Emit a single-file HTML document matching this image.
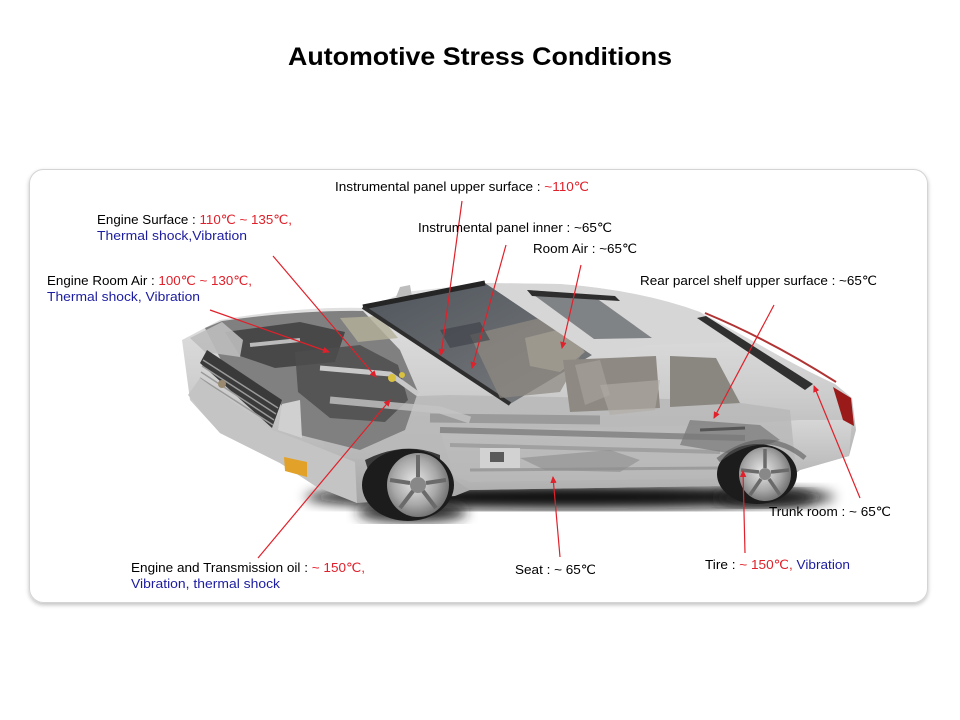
<!DOCTYPE html>
<html><head><meta charset="utf-8"><style>
html,body{margin:0;padding:0;background:#fff;}
svg{display:block;}
text{font-family:"Liberation Sans",Arial,sans-serif;}
</style></head><body>
<svg width="960" height="720" viewBox="0 0 960 720" xmlns="http://www.w3.org/2000/svg">
<defs>
<filter id="sh" x="-5%" y="-5%" width="110%" height="115%"><feGaussianBlur in="SourceAlpha" stdDeviation="2"/><feOffset dx="0" dy="2"/><feComponentTransfer><feFuncA type="linear" slope="0.25"/></feComponentTransfer><feMerge><feMergeNode/><feMergeNode in="SourceGraphic"/></feMerge></filter>
<filter id="blur6"><feGaussianBlur stdDeviation="6"/></filter>
<linearGradient id="body" x1="0" y1="0" x2="0" y2="1"><stop offset="0" stop-color="#e6e6e6"/><stop offset="0.5" stop-color="#cdcdcd"/><stop offset="1" stop-color="#a6a6a6"/></linearGradient>
<linearGradient id="side" x1="0" y1="0" x2="0" y2="1"><stop offset="0" stop-color="#d8d8d8"/><stop offset="1" stop-color="#b0b0b0"/></linearGradient>
<linearGradient id="glass" x1="0" y1="0" x2="1" y2="1"><stop offset="0" stop-color="#4f555c"/><stop offset="1" stop-color="#7a7c7e"/></linearGradient>
<radialGradient id="rim" cx="0.45" cy="0.45" r="0.6"><stop offset="0" stop-color="#e8e8e8"/><stop offset="0.6" stop-color="#a8a8a8"/><stop offset="1" stop-color="#6a6a6a"/></radialGradient>
<marker id="ar" markerWidth="8" markerHeight="8" refX="6" refY="4" orient="auto" markerUnits="userSpaceOnUse"><path d="M0,0.8 L7,4 L0,7.2 Z" fill="#e0202a"/></marker>
</defs>

<!-- title -->
<text x="480" y="65" text-anchor="middle" font-size="25" font-weight="bold" fill="#000" textLength="384" lengthAdjust="spacingAndGlyphs">Automotive Stress Conditions</text>

<!-- card -->
<rect x="29.5" y="169.5" width="898" height="433" rx="14" ry="14" fill="#fff" stroke="#d4d4d4" stroke-width="1" filter="url(#sh)"/>

<!-- CAR -->
<g>
  <ellipse cx="570" cy="497" rx="265" ry="12" fill="#111" filter="url(#blur6)"/>
  <ellipse cx="412" cy="512" rx="55" ry="10" fill="#222" filter="url(#blur6)"/>
  <ellipse cx="765" cy="498" rx="50" ry="9" fill="#222" filter="url(#blur6)"/>

  <path d="M182,340 L220,320 Q300,306 367,308 L405,292 L485,283 L560,284 Q640,290 700,312 L760,345 Q800,368 835,384 L852,398 L856,430 L849,456 L800,470 L790,478 L722,486 L470,490 L455,496 L357,503 L317,487 L280,463 L220,433 L190,400 Z" fill="url(#body)"/>

  <path d="M440,430 L720,425 L800,420 L852,420 L849,456 L800,470 L722,486 L470,490 L455,480 Z" fill="url(#side)" opacity="0.9"/>

  <path d="M300,400 L450,395 L720,400 L790,410 L795,460 L730,478 L470,482 L440,470 L330,455 Z" fill="#b8b8b8" opacity="0.85"/>
  <path d="M440,430 L745,438" stroke="#8a8a8a" stroke-width="6"/>
  <path d="M430,418 L600,420" stroke="#9a9a9a" stroke-width="9"/>
  <path d="M450,445 L720,452" stroke="#a0a0a0" stroke-width="4"/>
  <path d="M470,470 L720,468" stroke="#9c9c9c" stroke-width="3"/>
  <rect x="480" y="448" width="40" height="20" fill="#d8d8d8" opacity="0.8"/>
  <rect x="490" y="452" width="14" height="10" fill="#5a5a5a"/>
  <path d="M520,458 L545,470 L620,472 L640,460 L610,450 Z" fill="#8d8d8d" opacity="0.6"/>
  <path d="M690,420 L760,425 L780,440 L740,455 L680,445 Z" fill="#777" opacity="0.7"/>
  <path d="M700,430 L745,428" stroke="#555" stroke-width="3"/>

  <path d="M205,328 L222,321 Q300,310 363,311 L400,350 L418,392 L405,430 L360,450 L300,435 L280,403 L222,362 Z" fill="#808080"/>
  <path d="M225,332 L300,322 L345,332 L335,362 L275,368 L240,356 Z" fill="#3e3e3e" opacity="0.85"/>
  <path d="M295,352 L360,345 L398,365 L408,400 L385,422 L330,418 L298,392 Z" fill="#4e4e4e" opacity="0.85"/>
  <path d="M340,318 L380,316 L398,338 L358,342 Z" fill="#b5b09a" opacity="0.8"/>
  <path d="M320,368 L390,374 L418,394" stroke="#c8c8c8" stroke-width="5" fill="none"/>
  <path d="M250,345 L300,340" stroke="#bbbbbb" stroke-width="4"/>
  <circle cx="392" cy="378" r="4" fill="#d8c040"/>
  <circle cx="402" cy="375" r="3" fill="#d8c040"/>
  <path d="M330,400 L440,410 L470,420" stroke="#c4c4c4" stroke-width="7" fill="none" opacity="0.8"/>
  <path d="M190,338 L222,322 L243,340 L240,357 L205,352 Z" fill="#bcbcbc" opacity="0.9"/>

  <path d="M200,363 L207,350 L282,400 L272,428 Z" fill="#3a3a3a"/>
  <path d="M203,360 L278,408 M202,366 L276,414 M201,372 L274,420 M200,378 L273,425" stroke="#9a9a9a" stroke-width="1.5"/>
  <circle cx="222" cy="384" r="4" fill="#9a8a70"/>
  <path d="M188,395 L200,378 L272,430 L300,440 L355,462 L357,503 L317,487 L280,463 L220,433 Z" fill="#c4c4c4"/>
  <path d="M284,457 L307,462 L307,477 L285,471 Z" fill="#e2a22a"/>
  <path d="M282,404 L300,400 L302,438 L278,430 Z" fill="#d0d0d0"/>
  <path d="M365,460 Q405,440 440,455 L440,466 Q405,452 368,470 Z" fill="#3a3a3a"/>

  <path d="M396,297 L400,287 L410,285 L412,297 Z" fill="#bdbdbd"/>

  <path d="M363,307 L485,283 L592,355 L510,404 Z" fill="url(#glass)"/>
  <path d="M363,307 L485,283" stroke="#252525" stroke-width="5"/>
  <path d="M363,307 L510,404" stroke="#2e2e2e" stroke-width="4"/>
  <path d="M470,335 L540,318 L585,348 L560,392 L500,398 Z" fill="#8f8a83" opacity="0.75"/>
  <path d="M525,338 L565,328 L585,352 L560,372 L530,366 Z" fill="#a39d92" opacity="0.8"/>
  <path d="M440,330 L480,322 L490,340 L450,348 Z" fill="#3c4046" opacity="0.6"/>

  <path d="M485,283 L560,284 Q640,290 700,312 L735,342 L650,345 L592,355 Z" fill="#d6d6d6"/>
  <path d="M527,290 L592,295 L652,338 L594,339 Z" fill="#808386"/>
  <path d="M527,290 L615,296 L620,301 L532,296 Z" fill="#2e2e2e"/>

  <path d="M563,360 L656,356 L660,408 L570,412 Z" fill="#8e8a83"/>
  <path d="M670,356 L716,358 L740,403 L670,407 Z" fill="#8a8680"/>
  <path d="M575,365 L600,360 L610,395 L585,405 Z" fill="#a5a099" opacity="0.7"/>
  <path d="M600,385 L660,380 L655,410 L610,415 Z" fill="#b0aca5" opacity="0.6"/>
  <path d="M697,318 L706,316 L813,384 L805,390 Z" fill="#303030"/>
  <path d="M705,313 Q770,340 836,382" stroke="#b03434" stroke-width="2" fill="none"/>
  <path d="M833,387 L851,398 L854,426 L843,420 Z" fill="#9a1a1a"/>

  <ellipse cx="408" cy="485" rx="46" ry="36" fill="#1c1c1c"/>
  <ellipse cx="418" cy="485" rx="31" ry="32" fill="url(#rim)"/>
  <ellipse cx="418" cy="485" rx="8" ry="8" fill="#888"/>
  <path d="M418,455 L418,477 M390,480 L410,483 M446,480 L426,483 M400,508 L413,491 M436,508 L423,491" stroke="#6a6a6a" stroke-width="4"/>
  <ellipse cx="757" cy="474" rx="40" ry="30" fill="#1c1c1c"/>
  <ellipse cx="765" cy="474" rx="26" ry="27" fill="url(#rim)"/>
  <ellipse cx="765" cy="474" rx="6" ry="6" fill="#888"/>
  <path d="M765,449 L765,468 M741,470 L759,472 M789,470 L771,472 M750,495 L761,479 M780,495 L769,479" stroke="#6a6a6a" stroke-width="3.5"/>
  <path d="M718,460 Q765,425 805,458" stroke="#5a5a5a" stroke-width="5" fill="none" opacity="0.6"/>
</g>

<!-- connector lines -->
<g stroke="#e0202a" stroke-width="1.2" fill="none" marker-end="url(#ar)">
  <line x1="462" y1="201" x2="441" y2="355"/>
  <line x1="506" y1="245" x2="472" y2="368"/>
  <line x1="581" y1="265" x2="562" y2="348"/>
  <line x1="774" y1="305" x2="714" y2="418"/>
  <line x1="860" y1="498" x2="814" y2="386"/>
  <line x1="745" y1="553" x2="743" y2="471"/>
  <line x1="560" y1="557" x2="553" y2="477"/>
  <line x1="258" y1="558" x2="390" y2="400"/>
  <line x1="273" y1="256" x2="376" y2="377"/>
  <line x1="210" y1="310" x2="329" y2="352"/>
</g>

<!-- labels -->
<g font-size="13" fill="#000">
  <text x="335" y="191" textLength="254" lengthAdjust="spacingAndGlyphs">Instrumental panel upper surface : <tspan fill="#e0202a">~110℃</tspan></text>
  <text x="97" y="224" textLength="195" lengthAdjust="spacingAndGlyphs">Engine Surface : <tspan fill="#e0202a">110℃ ~ 135℃,</tspan></text>
  <text x="97" y="240" fill="#1c1ca0" textLength="150" lengthAdjust="spacingAndGlyphs">Thermal shock,Vibration</text>
  <text x="47" y="285" textLength="205" lengthAdjust="spacingAndGlyphs">Engine Room Air : <tspan fill="#e0202a">100℃ ~ 130℃,</tspan></text>
  <text x="47" y="301" fill="#1c1ca0" textLength="153" lengthAdjust="spacingAndGlyphs">Thermal shock, Vibration</text>
  <text x="418" y="232" textLength="194" lengthAdjust="spacingAndGlyphs">Instrumental panel inner : ~65℃</text>
  <text x="533" y="253" textLength="104" lengthAdjust="spacingAndGlyphs">Room Air : ~65℃</text>
  <text x="640" y="285" textLength="237" lengthAdjust="spacingAndGlyphs">Rear parcel shelf upper surface : ~65℃</text>
  <text x="769" y="516" textLength="122" lengthAdjust="spacingAndGlyphs">Trunk room : ~ 65℃</text>
  <text x="705" y="569" textLength="145" lengthAdjust="spacingAndGlyphs">Tire : <tspan fill="#e0202a">~ 150℃,</tspan> <tspan fill="#1c1ca0">Vibration</tspan></text>
  <text x="515" y="574" textLength="81" lengthAdjust="spacingAndGlyphs">Seat : ~ 65℃</text>
  <text x="131" y="572" textLength="234" lengthAdjust="spacingAndGlyphs">Engine and Transmission oil : <tspan fill="#e0202a">~ 150℃,</tspan></text>
  <text x="131" y="588" fill="#1c1ca0" textLength="149" lengthAdjust="spacingAndGlyphs">Vibration, thermal shock</text>
</g>
</svg>
</body></html>
